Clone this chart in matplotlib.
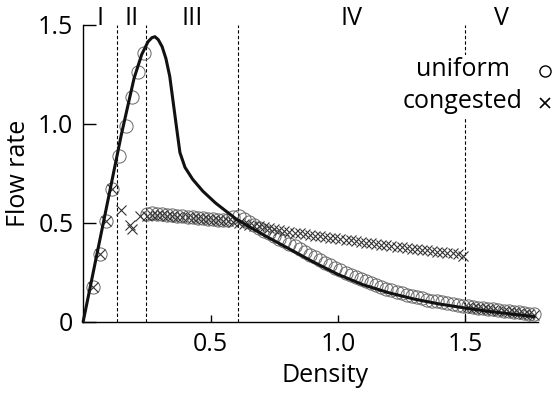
import matplotlib
matplotlib.use("Agg")
import matplotlib.pyplot as plt
from matplotlib.patches import Rectangle

plt.rcParams['font.family'] = ['Open Sans', 'DejaVu Sans']
plt.rcParams['font.size'] = 18

# fundamental diagram (solid curve)
curve_density = [0.0, 0.05, 0.10, 0.15, 0.20, 0.23, 0.255, 0.27, 0.282, 0.295,
                 0.31, 0.325, 0.34, 0.355, 0.37, 0.38, 0.40, 0.43, 0.47, 0.52,
                 0.56, 0.60, 0.70, 0.80, 0.90, 1.00, 1.10, 1.20, 1.30, 1.40,
                 1.50, 1.60, 1.70, 1.77]
curve_flow = [0.0, 0.315, 0.63, 0.945, 1.23, 1.35, 1.415, 1.435, 1.44, 1.425,
              1.39, 1.33, 1.24, 1.095, 0.95, 0.855, 0.78, 0.72, 0.66, 0.60,
              0.56, 0.52, 0.445, 0.375, 0.305, 0.24, 0.187, 0.147, 0.115, 0.09,
              0.07, 0.052, 0.037, 0.027]

# simulation samples
sparse_uniform_density = [0.04, 0.065, 0.09, 0.115, 0.141, 0.167, 0.191, 0.214, 0.239]
sparse_uniform_flow = [0.178, 0.342, 0.507, 0.67, 0.838, 0.99, 1.138, 1.264, 1.36]

sparse_congested_density = [0.04, 0.065, 0.09, 0.115, 0.148, 0.183, 0.193, 0.222]
sparse_congested_flow = [0.178, 0.342, 0.507, 0.67, 0.566, 0.49, 0.47, 0.535]

dense_density = [round(0.25 + 0.02 * i, 2) for i in range(77)]

dense_uniform_flow = [
    0.545, 0.548, 0.547, 0.545, 0.542, 0.540, 0.537, 0.535, 0.532, 0.530,
    0.527, 0.524, 0.521, 0.518, 0.515, 0.512, 0.515, 0.530, 0.535, 0.520,
    0.505, 0.490, 0.475, 0.460, 0.447, 0.434, 0.421, 0.408, 0.395, 0.382,
    0.368, 0.354, 0.340, 0.326, 0.312, 0.298, 0.285, 0.272, 0.260, 0.248,
    0.237, 0.226, 0.215, 0.205, 0.195, 0.186, 0.177, 0.168, 0.160, 0.152,
    0.145, 0.138, 0.131, 0.125, 0.119, 0.113, 0.108, 0.103, 0.098, 0.094,
    0.090, 0.086, 0.082, 0.078, 0.075, 0.072, 0.069, 0.066, 0.063, 0.060,
    0.057, 0.054, 0.051, 0.048, 0.045, 0.042, 0.040]

dense_congested_flow = [
    0.535, 0.540, 0.540, 0.538, 0.536, 0.534, 0.532, 0.530, 0.528, 0.526,
    0.524, 0.521, 0.519, 0.516, 0.513, 0.510, 0.508, 0.506, 0.500, 0.495,
    0.491, 0.486, 0.482, 0.477, 0.473, 0.468, 0.464, 0.459, 0.455, 0.451,
    0.447, 0.443, 0.439, 0.435, 0.432, 0.428, 0.425, 0.422, 0.419, 0.415,
    0.411, 0.407, 0.404, 0.400, 0.397, 0.393, 0.390, 0.386, 0.383, 0.380,
    0.376, 0.373, 0.370, 0.367, 0.364, 0.361, 0.358, 0.355, 0.352, 0.349,
    0.346, 0.343, 0.335, 0.075, 0.072, 0.069, 0.066, 0.063, 0.060, 0.057,
    0.054, 0.051, 0.048, 0.045, 0.042, 0.039, 0.037]

region_bounds = [0.133, 0.245, 0.608, 1.5]
region_labels = ['I', 'II', 'III', 'IV', 'V']
region_centers = [0.067, 0.19, 0.43, 1.055, 1.64]

fig = plt.figure(figsize=(5.54, 3.94), dpi=100)
ax = fig.add_axes([0.150, 0.183, 0.821, 0.754])

for xb in region_bounds:
    ax.plot([xb, xb], [0, 1.5], color='black', lw=0.8, ls=(0, (3, 2)), zorder=1)

circ = dict(marker='o', ms=9.5, mfc='none', mec='#666666', mew=0.7,
            linestyle='None', zorder=2, clip_on=False)
cross = dict(marker='x', ms=7, mec='#333333', mew=0.8,
             linestyle='None', zorder=2, clip_on=False)

ax.plot(sparse_uniform_density, sparse_uniform_flow, **circ)
ax.plot(dense_density, dense_uniform_flow, **circ)
ax.plot(sparse_congested_density, sparse_congested_flow, **cross)
ax.plot(dense_density[:63], dense_congested_flow[:63], **cross)
ax.plot(dense_density[63:], dense_congested_flow[63:], **cross)

ax.plot(curve_density, curve_flow, color='#111111', lw=2.2, zorder=3,
        solid_capstyle='round', clip_on=False)

for lab, xc in zip(region_labels, region_centers):
    ax.text(xc, 1.53, lab, ha='center', va='center', fontsize=18,
            clip_on=False)

# key
ax.add_patch(Rectangle((0.66, 0.69), 0.34, 0.21, transform=ax.transAxes,
                       facecolor='white', edgecolor='none', zorder=4))
ax.text(0.835, 0.848, 'uniform', transform=ax.transAxes, ha='center',
        va='center', fontsize=18, zorder=5)
ax.text(0.835, 0.741, 'congested', transform=ax.transAxes, ha='center',
        va='center', fontsize=18, zorder=5)
ax.plot([1.015], [0.845], transform=ax.transAxes, marker='o', ms=8,
        mfc='none', mec='black', mew=1.0, clip_on=False, zorder=5)
ax.plot([1.015], [0.738], transform=ax.transAxes, marker='x', ms=6.5,
        mec='black', mew=1.2, clip_on=False, zorder=5)

ax.set_xlim(0, 1.785)
ax.set_ylim(0, 1.5)
ax.set_xticks([0.5, 1.0, 1.5])
ax.set_xticklabels(['0.5', '1.0', '1.5'])
ax.set_yticks([0, 0.5, 1.0, 1.5])
ax.set_yticklabels(['0', '0.5', '1.0', '1.5'])
ax.tick_params(axis='y', direction='in', length=9, width=1, pad=7, labelsize=18)
ax.tick_params(axis='x', direction='in', length=5, width=1, pad=7, labelsize=18)
ax.spines['top'].set_visible(False)
ax.spines['right'].set_visible(False)
ax.spines['left'].set_linewidth(1)
ax.spines['bottom'].set_linewidth(1)

ax.set_xlabel('Density', fontsize=18)
ax.xaxis.set_label_coords(0.532, -0.14)
ax.set_ylabel('Flow rate', fontsize=18)
ax.yaxis.set_label_coords(-0.115, 0.5)

fig.savefig('out.png', dpi=100)
